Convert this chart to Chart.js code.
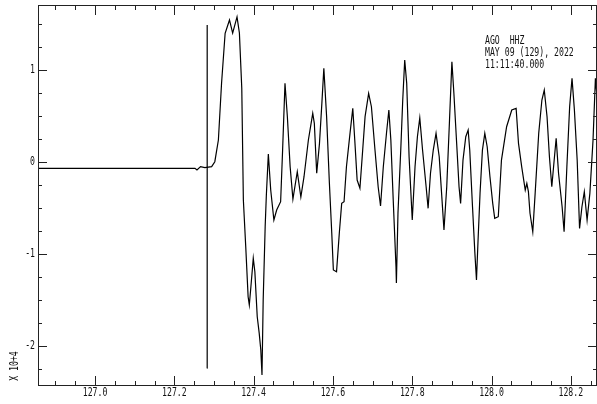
<!DOCTYPE html>
<html lang="en">
<head>
    <meta charset="UTF-8">
    <title>AGO HHZ</title>
    <script src="https://cdn.jsdelivr.net/npm/chart.js"></script>
</head>
<style>
    html, body { margin: 0; padding: 0; background: #fff; }
    #wrap { width: 597px; height: 404px; }
</style>
<body>
    <div id="wrap"><canvas id="myChart"></canvas></div>

    <script>
        // seismogram samples, time in s, amplitude in units of 10^4
        const times = [126.856, 127.252, 127.257, 127.266, 127.277, 127.294, 127.302, 127.311, 127.319, 127.328,
            127.339, 127.347, 127.358, 127.364, 127.370, 127.374, 127.380, 127.386, 127.389, 127.393,
            127.399, 127.403, 127.409, 127.414, 127.418, 127.421, 127.424, 127.429, 127.432, 127.437,
            127.443, 127.451, 127.458, 127.468, 127.473, 127.479, 127.485, 127.492, 127.499, 127.510,
            127.519, 127.527, 127.538, 127.549, 127.553, 127.559, 127.566, 127.572, 127.577, 127.584,
            127.591, 127.597, 127.601, 127.609, 127.616, 127.622, 127.628, 127.634, 127.643, 127.650,
            127.655, 127.661, 127.668, 127.675, 127.681, 127.690, 127.697, 127.706, 127.714, 127.720,
            127.727, 127.735, 127.741, 127.746, 127.752, 127.759, 127.760, 127.764, 127.771, 127.776,
            127.781, 127.786, 127.792, 127.800, 127.807, 127.813, 127.819, 127.826, 127.835, 127.840,
            127.846, 127.853, 127.860, 127.868, 127.874, 127.880, 127.887, 127.894, 127.900, 127.905,
            127.912, 127.918, 127.922, 127.928, 127.935, 127.941, 127.945, 127.952, 127.958, 127.962,
            127.966, 127.971, 127.977, 127.983, 127.989, 127.996, 128.003, 128.008, 128.017, 128.025,
            128.038, 128.051, 128.062, 128.068, 128.076, 128.085, 128.089, 128.093, 128.097, 128.104,
            128.110, 128.119, 128.127, 128.133, 128.140, 128.146, 128.152, 128.158, 128.163, 128.169,
            128.178, 128.183, 128.190, 128.197, 128.203, 128.209, 128.216, 128.222, 128.228, 128.234,
            128.241, 128.248, 128.256, 128.262, 128.266];
        const amps = [-0.072, -0.072, -0.09, -0.054, -0.065, -0.054, 0, 0.236, 0.853, 1.397,
            1.542, 1.40, 1.575, 1.40, 0.80, -0.417, -0.925, -1.469, -1.559, -1.360,
            -1.051, -1.197, -1.687, -1.867, -2.049, -2.321, -1.505, -0.707, -0.362, 0.084,
            -0.308, -0.634, -0.526, -0.435, 0.127, 0.853, 0.49, -0.054, -0.406, -0.109,
            -0.384, -0.163, 0.236, 0.527, 0.418, -0.126, 0.20, 0.635, 1.016, 0.49,
            -0.235, -0.779, -1.178, -1.197, -0.779, -0.453, -0.435, -0.054, 0.309, 0.581,
            0.236, -0.199, -0.289, 0.127, 0.49, 0.744, 0.598, 0.127, -0.272, -0.482,
            -0.054, 0.309, 0.563, 0.236, -0.417, -1.143, -1.32, -0.558, 0.127, 0.671,
            1.107, 0.853, 0.054, -0.634, -0.054, 0.272, 0.476, 0.127, -0.272, -0.507,
            -0.126, 0.127, 0.309, 0.054, -0.344, -0.743, -0.272, 0.454, 1.088, 0.744,
            0.20, -0.272, -0.453, 0.018, 0.272, 0.345, 0.127, -0.49, -0.997, -1.287,
            -0.852, -0.344, 0.127, 0.309, 0.163, -0.163, -0.453, -0.616, -0.598, 0.018,
            0.381, 0.563, 0.581, 0.20, -0.054, -0.308, -0.235, -0.326, -0.561, -0.762,
            -0.344, 0.309, 0.671, 0.78, 0.49, 0.054, -0.272, 0.018, 0.255, -0.126,
            -0.49, -0.762, -0.054, 0.598, 0.907, 0.563, 0.018, -0.725, -0.49, -0.326,
            -0.634, -0.344, 0.236, 0.907, 0.707];

        // pick marker
        const pickTime = 127.283;
        const pickRange = [1.487, -2.248];

        // axes
        const xRange = [126.856, 128.266];
        const yRange = [-2.44, 1.705];
        const xTicks = [127.0, 127.2, 127.4, 127.6, 127.8, 128.0, 128.2];
        const xTickLabels = ['127.0', '127.2', '127.4', '127.6', '127.8', '128.0', '128.2'];
        const yTicks = [-2, -1, 0, 1];
        const yTickLabels = ['-2', '-1', '0', '1'];
        const xMinorStep = 0.05;
        const yMinorStep = 0.25;

        const headerLines = ['AGO  HHZ', 'MAY 09 (129), 2022', '11:11:40.000'];
        const scaleLabel = 'X 10+4';

        // tall, narrow plot lettering
        const FONT = "13px 'DejaVu Sans Mono', 'Liberation Mono', monospace";
        const SQUEEZE = 0.63;

        function minorTicks(lo, hi, step) {
            const out = [];
            const start = Math.ceil(lo / step - 1e-9);
            for (let k = start; k * step <= hi + 1e-9; k++) out.push(+(k * step).toFixed(4));
            return out;
        }

        function narrowText(ctx, s, x, y, align) {
            ctx.save();
            ctx.translate(x, y);
            ctx.scale(SQUEEZE, 1);
            ctx.textAlign = align;
            ctx.fillText(s, 0, 0);
            ctx.restore();
        }

        // frame, inward ticks, labels, header text
        const sacFrame = {
            id: 'sacFrame',
            afterDraw(chart) {
                const { ctx, chartArea: a, scales } = chart;
                const xs = scales.x, ys = scales.y;
                ctx.save();
                ctx.strokeStyle = '#222';
                ctx.lineWidth = 1;
                ctx.strokeRect(Math.round(a.left) + 0.5, Math.round(a.top) + 0.5,
                    Math.round(a.right - a.left) - 1, Math.round(a.bottom - a.top) - 1);

                ctx.beginPath();
                minorTicks(xRange[0], xRange[1], xMinorStep).forEach(v => {
                    const major = xTicks.some(t => Math.abs(t - v) < 1e-6);
                    const len = major ? 10 : 5;
                    const px = Math.round(xs.getPixelForValue(v)) + 0.5;
                    ctx.moveTo(px, a.bottom); ctx.lineTo(px, a.bottom - len);
                    ctx.moveTo(px, a.top); ctx.lineTo(px, a.top + len);
                });
                minorTicks(yRange[0], yRange[1], yMinorStep).forEach(v => {
                    const major = yTicks.some(t => Math.abs(t - v) < 1e-6);
                    const len = major ? 9 : 4;
                    const py = Math.round(ys.getPixelForValue(v)) + 0.5;
                    ctx.moveTo(a.left, py); ctx.lineTo(a.left + len, py);
                    ctx.moveTo(a.right, py); ctx.lineTo(a.right - len, py);
                });
                ctx.stroke();

                ctx.fillStyle = '#111';
                ctx.font = FONT;
                ctx.textBaseline = 'middle';
                xTicks.forEach((v, i) => {
                    narrowText(ctx, xTickLabels[i], xs.getPixelForValue(v), a.bottom + 7, 'center');
                });
                yTicks.forEach((v, i) => {
                    narrowText(ctx, yTickLabels[i], a.left - 3, ys.getPixelForValue(v), 'right');
                });
                headerLines.forEach((s, i) => {
                    narrowText(ctx, s, a.right - 112, a.top + 36 + i * 12, 'left');
                });

                ctx.translate(15, a.bottom - 20);
                ctx.rotate(-Math.PI / 2);
                narrowText(ctx, scaleLabel, 0, 0, 'center');
                ctx.restore();
            }
        };

        const ctx = document.getElementById('myChart').getContext('2d');
        new Chart(ctx, {
            type: 'scatter',
            data: {
                datasets: [{
                    data: times.map((t, i) => ({ x: t, y: amps[i] })),
                    showLine: true,
                    borderColor: '#000',
                    borderWidth: 1.2,
                    pointRadius: 0,
                    tension: 0
                }, {
                    data: pickRange.map(v => ({ x: pickTime, y: v })),
                    showLine: true,
                    borderColor: '#333',
                    borderWidth: 1,
                    pointRadius: 0
                }]
            },
            options: {
                responsive: true,
                maintainAspectRatio: false,
                animation: false,
                layout: { padding: { top: 5, right: 0, left: 0, bottom: 0 } },
                plugins: { legend: { display: false }, tooltip: { enabled: false } },
                scales: {
                    x: {
                        type: 'linear',
                        min: xRange[0],
                        max: xRange[1],
                        afterBuildTicks: s => { s.ticks = xTicks.map(v => ({ value: v })); },
                        afterFit: s => { s.height = 18; s.paddingLeft = 0; s.paddingRight = 0; },
                        grid: { display: false, drawTicks: false },
                        border: { display: false },
                        ticks: { display: false }
                    },
                    y: {
                        min: yRange[0],
                        max: yRange[1],
                        afterBuildTicks: s => { s.ticks = yTicks.map(v => ({ value: v })); },
                        afterFit: s => { s.width = 38; s.paddingTop = 0; s.paddingBottom = 0; },
                        grid: { display: false, drawTicks: false },
                        border: { display: false },
                        ticks: { display: false }
                    }
                }
            },
            plugins: [sacFrame]
        });
    </script>
</body>
</html>
